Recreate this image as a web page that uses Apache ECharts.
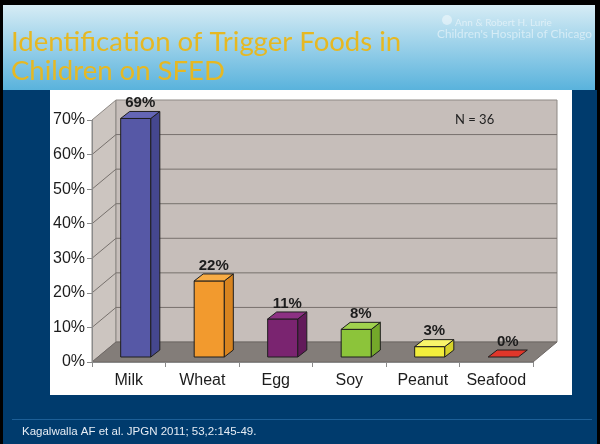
<!DOCTYPE html>
<html><head><meta charset="utf-8">
<script src="https://cdn.jsdelivr.net/npm/echarts@6/dist/echarts.min.js"></script>
<style>html,body{margin:0;padding:0;background:#000}#c{width:600px;height:444px}</style>
</head><body><div id="c"></div>
<script>
// ---- data ----
const categories = ['Milk', 'Wheat', 'Egg', 'Soy', 'Peanut', 'Seafood'];
const percentages = [69, 22, 11, 8, 3, 0];
const yTicks = [0, 10, 20, 30, 40, 50, 60, 70];
const titleLines = ['Identification of Trigger Foods in', 'Children on SFED'];
const logoLines = ['Ann & Robert H. Lurie', "Children's Hospital of Chicago"];
const noteText = 'N = 36';
const sourceText = 'Kagalwalla AF et al. JPGN 2011; 53,2:145-49.';

// ---- styles ----
const faceColors = [
  {front: '#5658a6', top: '#6466b6', side: '#45478f'},
  {front: '#f29a2e', top: '#f8ac45', side: '#d8841f'},
  {front: '#7a2470', top: '#8c3183', side: '#621a5a'},
  {front: '#8cc43a', top: '#a0d24e', side: '#74a82a'},
  {front: '#f2ee3c', top: '#f8f56a', side: '#d6d22a'},
  {front: '#e0362a', top: '#e0362a', side: '#b82a20'}
];
const EDGE = '#1e1e1e';
const DX = 24, DY = -20;      // wall depth
const FX = 7, FY = -5;        // bar front-face depth offset
const SX = 9, SY = -7;        // bar depth
const BAR_FRAC = 0.41;

const chart = echarts.init(document.getElementById('c'), null, {renderer: 'canvas'});

function renderWalls(params, api) {
  const cs = params.coordSys;
  const x0 = cs.x, x1 = cs.x + cs.width, yT = cs.y, yB = cs.y + cs.height;
  const ch = [];
  ch.push({type: 'polygon', shape: {points: [[x0, yB], [x0, yT], [x0 + DX, yT + DY], [x0 + DX, yB + DY]]},
    style: {fill: '#ccc5c0', stroke: '#8d8884', lineWidth: 1}});
  ch.push({type: 'polygon', shape: {points: [[x0 + DX, yT + DY], [x1 + DX, yT + DY], [x1 + DX, yB + DY], [x0 + DX, yB + DY]]},
    style: {fill: '#c6beba', stroke: '#8d8884', lineWidth: 1}});
  yTicks.forEach(function (v) {
    if (v === 0 || v === yTicks[yTicks.length - 1]) return;
    const y = api.coord([0, v])[1];
    ch.push({type: 'polyline', shape: {points: [[x0, y], [x0 + DX, y + DY], [x1 + DX, y + DY]]},
      style: {stroke: '#77716d', lineWidth: 1, fill: null}});
  });
  ch.push({type: 'polygon', shape: {points: [[x0, yB], [x1, yB], [x1 + DX, yB + DY], [x0 + DX, yB + DY]]},
    style: {fill: '#837d79', stroke: '#6e6865', lineWidth: 1}});
  return {type: 'group', children: ch};
}

function renderBar(params, api) {
  const i = api.value(0), v = api.value(1);
  const b = api.coord([i, 0]), t = api.coord([i, v]);
  const bw = api.size([1, 0])[0];
  const w = bw * BAR_FRAC;
  const L = b[0] - w / 2 + FX, R = L + w;
  const B = b[1] + FY, T = t[1] + FY;
  const c = faceColors[i];
  const ch = [];
  if (B - T > 0.5) {
    ch.push({type: 'polygon', shape: {points: [[L, T], [R, T], [R, B], [L, B]]},
      style: {fill: c.front, stroke: EDGE, lineWidth: 1}});
    ch.push({type: 'polygon', shape: {points: [[R, T], [R + SX, T + SY], [R + SX, B + SY], [R, B]]},
      style: {fill: c.side, stroke: EDGE, lineWidth: 1}});
  }
  ch.push({type: 'polygon', shape: {points: [[L, T], [R, T], [R + SX, T + SY], [L + SX, T + SY]]},
    style: {fill: c.top, stroke: EDGE, lineWidth: 1}});
  ch.push({type: 'text', style: {text: v + '%', x: (L + R + SX) / 2, y: T + SY - 1,
    align: 'center', verticalAlign: 'bottom',
    fontFamily: '"Liberation Sans", Arial, sans-serif', fontWeight: 'bold', fontSize: 15, fill: '#1c1c1c'}});
  return {type: 'group', children: ch};
}

const option = {
  animation: false,
  backgroundColor: '#000',
  graphic: [
    {type: 'rect', z: -10, shape: {x: 3, y: 5, width: 592, height: 86},
      style: {fill: new echarts.graphic.LinearGradient(0, 0, 0, 1, [
        {offset: 0, color: '#d6ecf5'}, {offset: 1, color: '#58b2dc'}])}},
    {type: 'rect', z: -10, shape: {x: 3, y: 90, width: 594, height: 354}, style: {fill: '#003b6d'}},
    {type: 'rect', z: -9, shape: {x: 50, y: 90, width: 522, height: 305}, style: {fill: '#ffffff'}},
    {type: 'line', z: -9, shape: {x1: 12, y1: 419.5, x2: 592, y2: 419.5}, style: {stroke: '#1d5f97', lineWidth: 1}},
    {type: 'text', z: 10, style: {text: titleLines[0], x: 11, y: 42, verticalAlign: 'middle',
      fontFamily: 'Lato, "Noto Sans", sans-serif', fontSize: 27.5, fill: '#e6b822'}},
    {type: 'text', z: 10, style: {text: titleLines[1], x: 11, y: 71, verticalAlign: 'middle',
      fontFamily: 'Lato, "Noto Sans", sans-serif', fontSize: 27.5, fill: '#e6b822'}},
    {type: 'circle', z: 10, shape: {cx: 447, cy: 20, r: 5}, style: {fill: 'rgba(255,255,255,0.45)'}},
    {type: 'text', z: 10, style: {text: logoLines[0], x: 455, y: 23, verticalAlign: 'middle',
      fontFamily: 'Lato, sans-serif', fontSize: 10, fill: 'rgba(255,255,255,0.5)'}},
    {type: 'text', z: 10, style: {text: logoLines[1], x: 437, y: 34, verticalAlign: 'middle',
      fontFamily: 'Lato, sans-serif', fontSize: 11.8, fill: 'rgba(255,255,255,0.5)'}},
    {type: 'text', z: 10, style: {text: sourceText, x: 22, y: 432, verticalAlign: 'middle',
      fontFamily: '"Liberation Sans", Arial, sans-serif', fontSize: 11.5, fill: '#e6edf5'}},
    {type: 'text', z: 10, style: {text: noteText, x: 455, y: 120, verticalAlign: 'middle',
      fontFamily: 'Lato, "Open Sans", sans-serif', fontSize: 13, fill: '#222'}}
  ],
  grid: {left: 92, right: 67, top: 120, bottom: 82, containLabel: false},
  xAxis: {
    type: 'category', data: categories, z: 5,
    axisLine: {show: true, lineStyle: {color: '#8a8a8a', width: 1}},
    axisTick: {show: true, length: 5, lineStyle: {color: '#8a8a8a'}},
    axisLabel: {interval: 0, margin: 11, fontSize: 16, color: '#1c1c1c', fontFamily: '"Liberation Sans", Arial, sans-serif'},
    splitLine: {show: false}
  },
  yAxis: {
    type: 'value', min: 0, max: 70, interval: 10, z: 5,
    axisLine: {show: true, lineStyle: {color: '#8a8a8a', width: 1}},
    axisTick: {show: true, length: 5, lineStyle: {color: '#8a8a8a'}},
    axisLabel: {margin: 7, fontSize: 16, color: '#1c1c1c', formatter: '{value}%',
      fontFamily: '"Liberation Sans", Arial, sans-serif'},
    splitLine: {show: false}
  },
  series: [
    {type: 'custom', z: 1, silent: true, renderItem: renderWalls, data: [[0, 0]], encode: {x: 0, y: 1}},
    {type: 'custom', z: 3, renderItem: renderBar, encode: {x: 0, y: 1},
      data: categories.map(function (c, i) { return [i, percentages[i]]; })}
  ]
};
chart.setOption(option);
</script>
</body></html>
